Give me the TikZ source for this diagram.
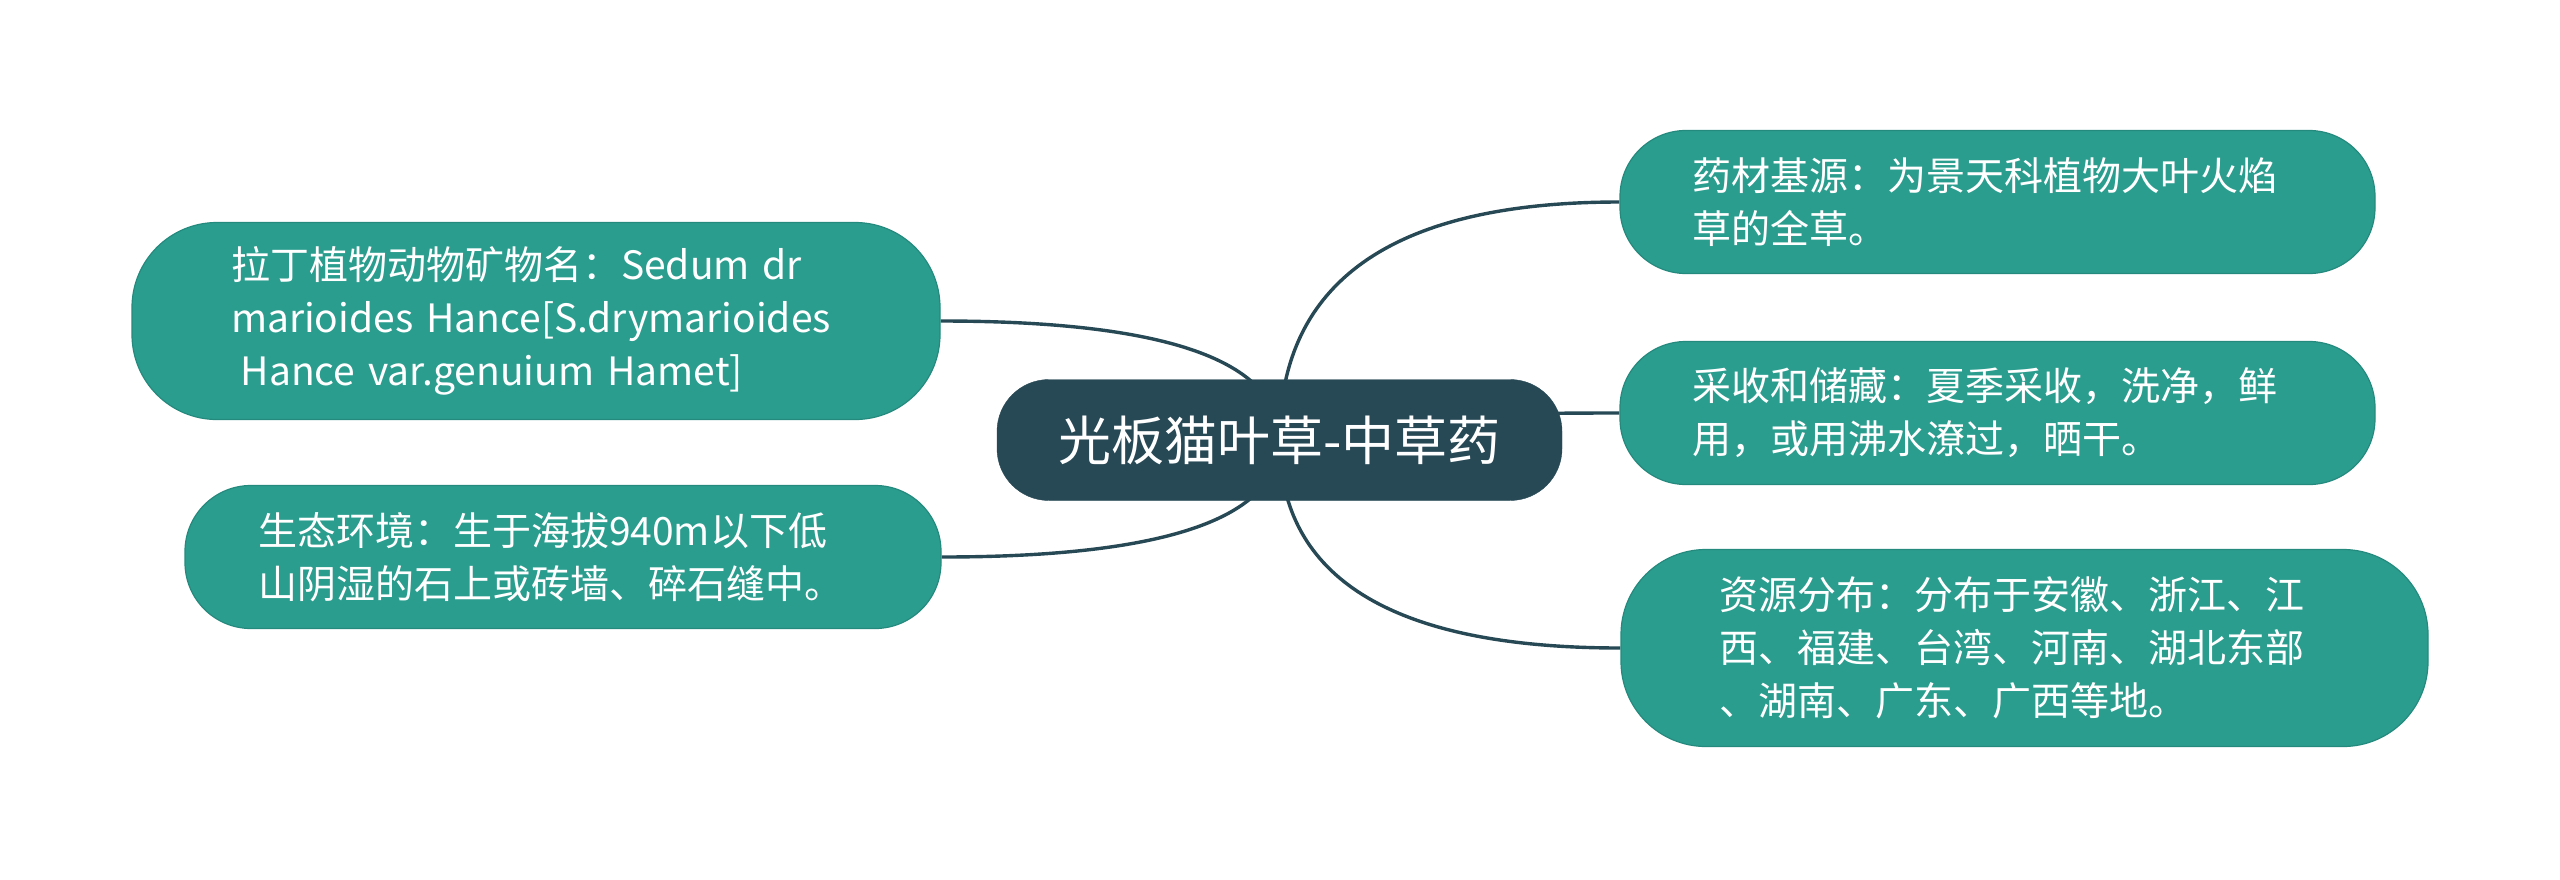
\documentclass[tikz,border=0pt]{standalone}
\usepackage{fontspec}
\setmainfont{Noto Sans CJK SC}
\usetikzlibrary{calc,backgrounds}
\definecolor{leafteal}{RGB}{43,157,143}
\definecolor{leafedge}{RGB}{36,138,126}
\definecolor{rootslate}{RGB}{39,72,85}
\begin{document}
\begin{tikzpicture}[x=1pt,y=-1pt,
  leaf/.style={rectangle, fill=leafteal, draw=leafedge, line width=1.2pt,
    text=white, font=\fontsize{39}{53}\selectfont, align=left,
    text width=610pt, inner xsep=0pt, inner ysep=0pt},
  twoline/.style={leaf, minimum height=143pt, rounded corners=66pt},
  threeline/.style={leaf, minimum height=197pt, rounded corners=85pt},
  rootnode/.style={rectangle, fill=rootslate, draw=rootslate, text=white,
    font=\fontsize{53}{60}\selectfont, minimum width=565pt, minimum height=121pt,
    rounded corners=52pt, inner sep=0pt},
  branch/.style={draw=rootslate, line width=3.4pt}
]
\useasboundingbox (0,0) rectangle (2560,879);
\node[rootnode] (c) at (1279.5,440) {光板猫叶草-中草药};
\node[threeline, minimum width=808pt] (n1) at (536,321)
  {拉丁植物动物矿物名：Sedum dr\\marioides Hance[S.drymarioides\\\hspace*{0.25em}Hance var.genuium Hamet]};
\node[twoline, minimum width=756pt] (n2) at (563,557)
  {生态环境：生于海拔940m以下低\\山阴湿的石上或砖墙、碎石缝中。};
\node[twoline, minimum width=755pt] (r1) at (1997.5,202)
  {药材基源：为景天科植物大叶火焰\\草的全草。};
\node[twoline, minimum width=755pt] (r2) at (1997.5,413)
  {采收和储藏：夏季采收，洗净，鲜\\用，或用沸水潦过，晒干。};
\node[threeline, minimum width=807pt] (r3) at (2024.5,648)
  {资源分布：分布于安徽、浙江、江\\西、福建、台湾、河南、湖北东部\\、湖南、广东、广西等地。};
\begin{pgfonlayer}{background}
\foreach \t/\a in {r1/west, r2/west, r3/west, n1/east, n2/east}{
  \draw[branch] (c.center) .. controls ($(c.center)!2/3!(c.center |- \t.\a)$)
    and ($(\t.\a)!2/3!(c.center |- \t.\a)$) .. (\t.\a);
}
\end{pgfonlayer}
\end{tikzpicture}
\end{document}
